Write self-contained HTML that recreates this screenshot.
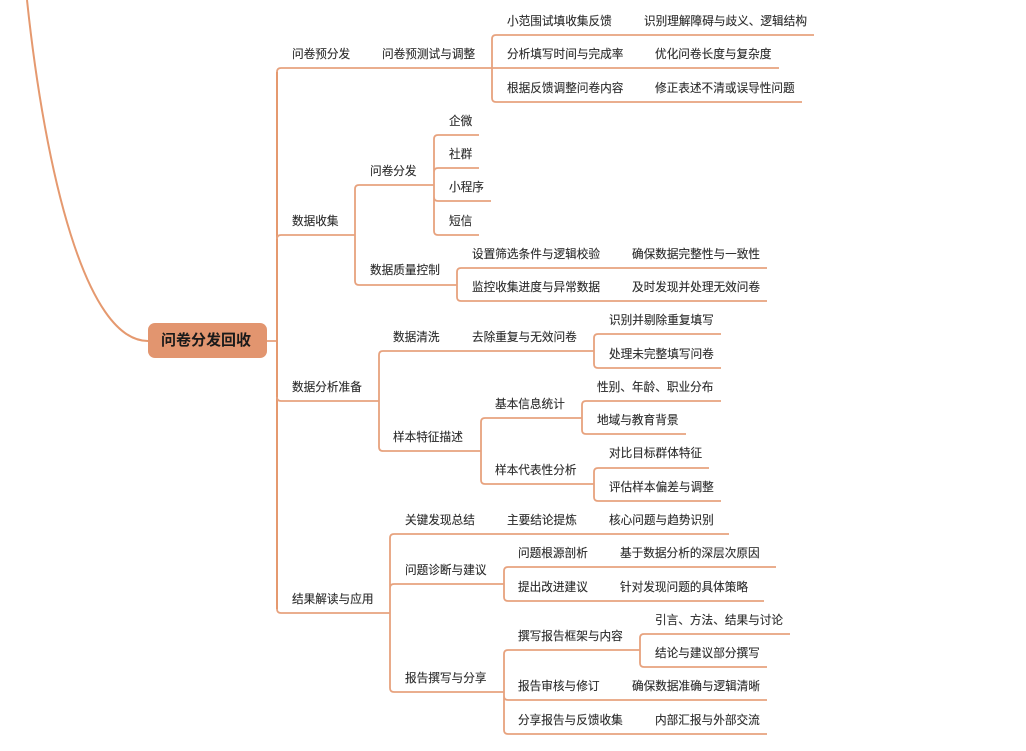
<!DOCTYPE html>
<html lang="zh">
<head>
<meta charset="utf-8">
<title>问卷分发回收</title>
<style>
html,body{margin:0;padding:0;background:#fff;width:1026px;height:751px;overflow:hidden}
svg{display:block}
text{font-family:"Liberation Sans","Noto Sans CJK SC",sans-serif;font-size:11.65px;fill:#2b2b2b;stroke:#2b2b2b;stroke-width:.12px}
.l{fill:none;stroke:#E7A27E;stroke-width:1.8}
.m{fill:none;stroke:#E5996F;stroke-width:2}
</style>
</head>
<body>
<svg width="1026" height="751" viewBox="0 0 1026 751" xmlns="http://www.w3.org/2000/svg">
<path class="m" d="M27 0C45 170 85 341 148 341"/>
<path class="l" d="M267 341H277"/>
<path class="m" d="M277 72V609"/>
<path class="l" d="M277 72Q277 68 281 68H492M277 239Q277 235 281 235H355M277 397Q277 401 281 401H379M277 609Q277 613 281 613H390"/>

<path class="l" d="M496 35Q492 35 492 39V98Q492 102 496 102H802M496 35H814M492 68H779"/>

<path class="l" d="M359 185Q355 185 355 189V281Q355 285 359 285H457M359 185H434"/>
<path class="l" d="M438 135Q434 135 434 139V231Q434 235 438 235H479M438 135H479M434 172Q434 168 438 168H479M434 197Q434 201 438 201H491"/>
<path class="l" d="M461 268Q457 268 457 272V297Q457 301 461 301H767M461 268H767"/>

<path class="l" d="M383 351Q379 351 379 355V447Q379 451 383 451H481M383 351H594"/>
<path class="l" d="M598 334Q594 334 594 338V364Q594 368 598 368H721M598 334H721"/>
<path class="l" d="M485 418Q481 418 481 422V480Q481 484 485 484H594M485 418H582"/>
<path class="l" d="M586 401Q582 401 582 405V430Q582 434 586 434H686M586 401H721"/>
<path class="l" d="M598 468Q594 468 594 472V497Q594 501 598 501H721M598 468H709"/>

<path class="l" d="M394 534Q390 534 390 538V688Q390 692 394 692H504M394 534H729M390 588Q390 584 394 584H504"/>
<path class="l" d="M508 567Q504 567 504 571V597Q504 601 508 601H764M508 567H776"/>
<path class="l" d="M508 650Q504 650 504 654V730Q504 734 508 734H767M508 650H640M504 696Q504 700 508 700H767"/>
<path class="l" d="M644 634Q640 634 640 638V663Q640 667 644 667H767M644 634H790"/>

<rect x="148" y="323" width="119" height="35" rx="7" fill="#E2956F"/>
<text x="161" y="345" style="font-size:15px;font-weight:bold;fill:#1a1a1a;stroke:none">问卷分发回收</text>

<text x="292" y="58">问卷预分发</text>
<text x="382" y="58">问卷预测试与调整</text>
<text x="507" y="25">小范围试填收集反馈</text>
<text x="644" y="25">识别理解障碍与歧义、逻辑结构</text>
<text x="507" y="58">分析填写时间与完成率</text>
<text x="655" y="58">优化问卷长度与复杂度</text>
<text x="507" y="92">根据反馈调整问卷内容</text>
<text x="655" y="92">修正表述不清或误导性问题</text>

<text x="449" y="125">企微</text>
<text x="449" y="158">社群</text>
<text x="449" y="191">小程序</text>
<text x="449" y="225">短信</text>
<text x="370" y="175">问卷分发</text>
<text x="292" y="225">数据收集</text>
<text x="370" y="274">数据质量控制</text>
<text x="472" y="258">设置筛选条件与逻辑校验</text>
<text x="632" y="258">确保数据完整性与一致性</text>
<text x="472" y="291">监控收集进度与异常数据</text>
<text x="632" y="291">及时发现并处理无效问卷</text>

<text x="393" y="341">数据清洗</text>
<text x="472" y="341">去除重复与无效问卷</text>
<text x="609" y="324">识别并剔除重复填写</text>
<text x="609" y="358">处理未完整填写问卷</text>
<text x="292" y="391">数据分析准备</text>
<text x="393" y="441">样本特征描述</text>
<text x="495" y="408">基本信息统计</text>
<text x="597" y="391">性别、年龄、职业分布</text>
<text x="597" y="424">地域与教育背景</text>
<text x="495" y="474">样本代表性分析</text>
<text x="609" y="457">对比目标群体特征</text>
<text x="609" y="491">评估样本偏差与调整</text>

<text x="405" y="524">关键发现总结</text>
<text x="507" y="524">主要结论提炼</text>
<text x="609" y="524">核心问题与趋势识别</text>
<text x="292" y="603">结果解读与应用</text>
<text x="405" y="574">问题诊断与建议</text>
<text x="518" y="557">问题根源剖析</text>
<text x="620" y="557">基于数据分析的深层次原因</text>
<text x="518" y="591">提出改进建议</text>
<text x="620" y="591">针对发现问题的具体策略</text>
<text x="405" y="682">报告撰写与分享</text>
<text x="518" y="640">撰写报告框架与内容</text>
<text x="655" y="624">引言、方法、结果与讨论</text>
<text x="655" y="657">结论与建议部分撰写</text>
<text x="518" y="690">报告审核与修订</text>
<text x="632" y="690">确保数据准确与逻辑清晰</text>
<text x="518" y="724">分享报告与反馈收集</text>
<text x="655" y="724">内部汇报与外部交流</text>
</svg>
</body>
</html>
